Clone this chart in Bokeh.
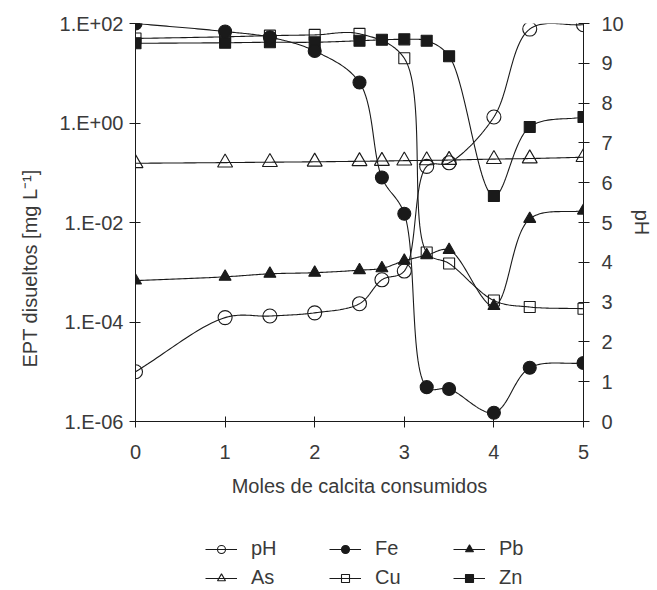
import numpy as np
from bokeh.plotting import figure
from bokeh.layouts import column
from bokeh.models import (Range1d, LinearAxis, LinearScale, FixedTicker, CustomJSTickFormatter,
                          Legend, LegendItem, Title)
from bokeh.embed import file_html
from bokeh.resources import INLINE

# ---------------- data ----------------
x_all = [0, 1, 1.5, 2, 2.5, 2.75, 3, 3.25, 3.5, 4, 4.4, 5]
ph = [1.25, 2.61, 2.65, 2.73, 2.96, 3.56, 3.78, 6.41, 6.5, 7.65, 9.86, 9.97]
fe = [100, 69, 53, 28, 6.5, 0.08, 0.015, 4.9e-6, 4.5e-6, 1.5e-6, 1.2e-5, 1.5e-5]
pb = [6.8e-4, 8.1e-4, 9.3e-4, 9.8e-4, 1.1e-3, 1.2e-3, 1.7e-3, 2.2e-3, 2.8e-3, 2.1e-4, 0.0118, 0.0173]
as_ = [0.155, 0.16, 0.163, 0.166, 0.17, 0.172, 0.175, 0.177, 0.18, 0.188, 0.193, 0.205]
x_cu = [0, 1, 1.5, 2, 2.5, 3, 3.25, 3.5, 4, 4.4, 5]
cu = [50, 54, 57, 59, 62, 20, 2.5e-3, 1.5e-3, 2.7e-4, 2.0e-4, 1.85e-4]
zn = [40, 41, 42, 42, 45, 47, 48, 45, 22, 0.034, 0.83, 1.32]

x_ticks = [0, 1, 2, 3, 4, 5]
log_ticks = [1e-6, 1e-4, 1e-2, 1, 100]
ph_ticks = list(range(11))
legend_order = ["pH", "As", "Fe", "Cu", "Pb", "Zn"]

FONT = "Liberation Sans"
TXT = "#3a3a3a"
LINE = "#1a1a1a"

FW, FH = 448, 398                 # plot frame size in px
SX = FW / 5.0                     # px per x unit
SL = FH / 8.0                     # px per decade (left log axis)
SP = FH / 10.0                    # px per pH unit (right axis)


def smooth(xs, ys, sx, sy, n=30):
    """Centripetal Catmull-Rom smoothing of a polyline, done in screen proportions."""
    P = np.column_stack([np.asarray(xs, float) * sx, np.asarray(ys, float) * sy])
    P = np.vstack([2 * P[0] - P[1], P, 2 * P[-1] - P[-2]])
    out = []
    for i in range(1, len(P) - 2):
        p0, p1, p2, p3 = P[i - 1], P[i], P[i + 1], P[i + 2]
        t0 = 0.0
        t1 = t0 + max(np.linalg.norm(p1 - p0), 1e-6) ** 0.5
        t2 = t1 + max(np.linalg.norm(p2 - p1), 1e-6) ** 0.5
        t3 = t2 + max(np.linalg.norm(p3 - p2), 1e-6) ** 0.5
        t = np.linspace(t1, t2, n, endpoint=False)[:, None]
        a1 = (t1 - t) / (t1 - t0) * p0 + (t - t0) / (t1 - t0) * p1
        a2 = (t2 - t) / (t2 - t1) * p1 + (t - t1) / (t2 - t1) * p2
        a3 = (t3 - t) / (t3 - t2) * p2 + (t - t2) / (t3 - t2) * p3
        b1 = (t2 - t) / (t2 - t0) * a1 + (t - t0) / (t2 - t0) * a2
        b2 = (t3 - t) / (t3 - t1) * a2 + (t - t1) / (t3 - t1) * a3
        c = (t2 - t) / (t2 - t1) * b1 + (t - t1) / (t2 - t1) * b2
        out.append(c)
    out.append(P[-2][None, :])
    out = np.vstack(out)
    return out[:, 0] / sx, out[:, 1] / sy


p = figure(frame_width=FW, frame_height=FH, y_axis_type="log",
           x_range=Range1d(0, 5), y_range=Range1d(1e-6, 1e2),
           output_backend="svg", toolbar_location=None,
           min_border_left=135, min_border_right=74, min_border_top=23,
           min_border_bottom=100)
p.extra_y_ranges = {"ph": Range1d(0, 10)}
p.extra_y_scales = {"ph": LinearScale()}
p.outline_line_color = None
p.xgrid.visible = False
p.ygrid.visible = False
p.background_fill_color = "white"
p.border_fill_color = "white"


def style_axis(ax):
    ax.axis_line_color = LINE
    ax.major_tick_line_color = LINE
    ax.major_tick_in = 5
    ax.major_tick_out = 6
    ax.minor_tick_line_color = None
    ax.major_label_text_font = FONT
    ax.major_label_text_font_size = "20px"
    ax.major_label_text_color = TXT
    ax.axis_label_text_font = FONT
    ax.axis_label_text_font_size = "20px"
    ax.axis_label_text_color = TXT
    ax.axis_label_text_font_style = "normal"


xa = p.xaxis[0]
xa.ticker = FixedTicker(ticks=x_ticks)
xa.axis_label = "Moles de calcita consumidos"
style_axis(xa)
xa.major_label_standoff = 17
xa.axis_label_standoff = 13

ya = p.yaxis[0]
ya.ticker = FixedTicker(ticks=log_ticks)
ya.formatter = CustomJSTickFormatter(code="""
const e = Math.round(Math.log10(tick));
const s = e < 0 ? "-" : "+";
const a = Math.abs(e);
return "1.E" + s + (a < 10 ? "0" : "") + a;
""")
style_axis(ya)
ya.major_label_standoff = 6

# left axis title, placed lower than centre as in the original
ytitle = Title(text="EPT disueltos [mg L⁻¹]", align="left", offset=54,
               vertical_align="top", standoff=28,
               text_font=FONT, text_font_size="20px", text_font_style="normal",
               text_color=TXT)
p.add_layout(ytitle, "left")

ra = LinearAxis(y_range_name="ph", ticker=FixedTicker(ticks=ph_ticks), axis_label="pH")
style_axis(ra)
ra.major_label_standoff = 12
ra.axis_label_standoff = 4
p.add_layout(ra, "right")

# separate strip that holds the legend below the chart; its ranges keep the
# proxy renderers (same data as the chart) out of view, only the legend shows
q = figure(width=FW + 135 + 74, height=69, x_range=Range1d(0, 1), y_range=Range1d(1e3, 2e3),
           output_backend="svg", toolbar_location=None,
           x_axis_location=None, y_axis_location=None,
           min_border_left=0, min_border_right=0, min_border_top=0, min_border_bottom=0)
q.outline_line_color = None
q.xgrid.visible = False
q.ygrid.visible = False

items = {}


def series(name, xs, ys, marker, filled, on_ph=False, size=13):
    if on_ph:
        sx, sy = smooth(xs, ys, SX, SP)
        rng = "ph"
    else:
        sx, ly = smooth(xs, np.log10(ys), SX, SL)
        sy = 10 ** ly
        rng = "default"
    kw = dict(line_color=LINE, line_width=1.1)
    mk = dict(marker=marker, size=size, line_color=LINE, line_width=1.1,
              fill_color=LINE if filled else None)
    p.line(sx, sy, y_range_name=rng, **kw)
    p.scatter(xs, ys, y_range_name=rng, **mk)
    l = q.line(xs, ys, **kw)
    mk_leg = dict(mk)
    mk_leg["size"] = size - 2
    s = q.scatter(xs, ys, **mk_leg)
    items[name] = LegendItem(label=name, renderers=[l, s])


series("As", x_all, as_, "triangle", False, size=15)
series("Pb", x_all, pb, "triangle", True, size=12)
series("Cu", x_cu, cu, "square", False, size=11)
series("Zn", x_all, zn, "square", True, size=11)
series("Fe", x_all, fe, "circle", True, size=13)
series("pH", x_all, ph, "circle", False, on_ph=True, size=14)

legend = Legend(items=[items[k] for k in legend_order],
                nrows=2, orientation="vertical", location=(70, 1))
legend.border_line_color = None
legend.background_fill_alpha = 0
legend.label_text_font = FONT
legend.label_text_font_size = "20px"
legend.label_text_color = TXT
legend.glyph_width = 32
legend.glyph_height = 20
legend.label_standoff = 14
legend.label_width = 72
legend.spacing = 6
legend.margin = 0
legend.padding = 0
q.add_layout(legend, "center")

layout = column(p, q, spacing=0)
open("out.html", "w").write(file_html(layout, INLINE))
